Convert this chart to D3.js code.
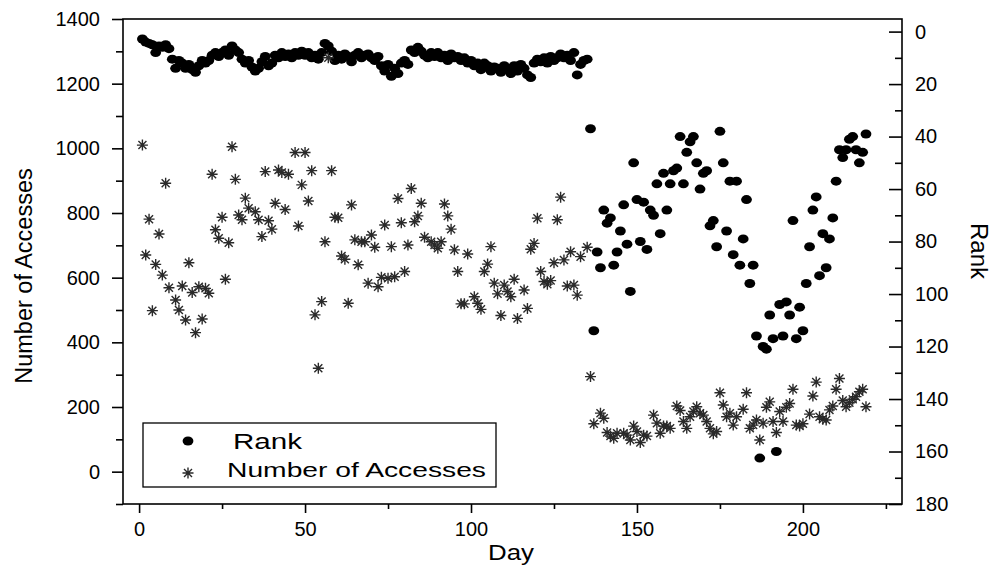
<!DOCTYPE html>
<html>
<head>
<meta charset="utf-8">
<script src="https://cdn.jsdelivr.net/npm/d3@7"></script>
<style>
  body { margin: 0; background: #fff; }
  text { font-family: "Liberation Sans", Arial, sans-serif; fill: #000; }
</style>
</head>
<body>
<div id="chart"></div>
<script>
// Rank of the site, one reading per day (right axis, 0 at the top)
const rankDays = d3.range(1, 220);
const rankValues = [
    2.8, 4, 4.5, 5, 8, 5.5, 6, 5, 6.5, 10.5,
    14, 11, 12, 14, 12.5, 14.5, 15.5, 13, 11, 12,
    11, 9, 8, 9.5, 8, 7, 9, 5.5, 7, 8,
    10.5, 12, 11, 13.5, 15, 14, 11.5, 9.5, 13, 12,
    9, 10, 8, 9.5, 8.5, 10, 8, 9, 7.5, 9,
    8, 10, 9, 10.5, 8, 4.5, 5.5, 7.5, 11, 9,
    10.5, 8.5, 9.5, 11.5, 9, 8, 10, 9, 8.5, 10,
    11, 9.5, 13, 15, 12.5, 17, 14, 16, 12, 11,
    12.5, 7, 8, 6, 7.5, 9, 10, 8, 9.5, 8,
    10, 9, 11, 8.5, 10, 9.5, 11, 10, 12, 11,
    13, 12, 14.5, 12, 13, 15, 13.5, 14, 15.5, 13,
    14, 16, 13, 15, 12.5, 14, 16.5, 17.5, 12, 10.5,
    11.5, 10, 12, 9.5, 11, 10, 8.5, 10, 9, 11,
    8, 16.5, 12.5, 11, 10.5,
    37, 114, 84, 90, 68, 73, 71, 89, 84, 76,          // day 136-145
    66, 81, 99, 50, 64, 80, 65, 83, 68, 70,           // 146-155
    58, 77, 54, 68, 58, 53, 52, 40, 58, 46,           // 156-165
    42, 40, 50, 60, 54, 53, 74, 72, 82, 38,           // 166-175
    50, 76, 57, 85, 57, 89, 79, 64, 96, 89,           // 176-185
    116, 162.5, 120, 121, 108, 117, 160, 104, 116, 103, // 186-195
    108, 72, 117, 105, 114, 96, 82, 68, 63, 93,       // 196-205
    77, 90, 79, 71, 57, 45, 48, 45, 41, 40,           // 206-215
    45, 50, 46, 39                                    // 216-219
];

// Number of accesses (left axis); some days are hidden under other marks
const accessDays = [
    1, 2, 3, 4, 5, 6, 7, 8, 9,
    11, 12, 13, 14, 15, 16, 17, 18, 19, 20, 21,
    22, 23, 24, 25, 26, 27, 28, 29, 30, 31, 32, 33,
    35, 36, 37, 38, 39, 40, 41, 42, 43, 44, 45,
    47, 48, 49, 50, 51, 52, 53, 54, 55, 56,
    57,
    58, 59, 60, 61, 62, 63, 64, 65, 66, 67, 68, 69, 70, 71, 72, 73, 74, 75, 76, 77, 78, 79, 80, 81, 82, 83, 84, 85, 86,
    88, 89, 90, 91, 92, 93, 94, 95, 96, 97, 98, 99,
    101, 102, 103, 104, 105, 106, 107, 108, 109, 110, 111, 112, 113, 114,
    116, 117, 118, 119, 120, 121, 122, 123, 124, 125, 126, 127, 128, 129, 130, 131, 132, 133,
    135,
    136, 137,
    139, 140, 141, 142, 143, 144,
    146, 147, 148, 149, 150, 151, 152, 153,
    155, 156, 157, 158, 159, 160,
    162, 163, 164, 165, 166, 167, 168, 169, 170, 171, 172, 173, 174, 175, 176, 177, 178, 179, 180,
    182, 183, 184, 185, 186, 187, 188, 189, 190, 191, 192, 193, 194, 195, 196, 197, 198, 199, 200,
    202, 203, 204, 205, 206, 207, 208, 209, 210, 211, 212, 213, 214, 215, 216, 217, 218, 219
];
const accessValues = [
    1010, 670, 781, 498, 641, 735, 608, 892, 569,
    531, 500, 574, 469, 646, 554, 430, 572, 472, 567, 552,
    920, 748, 722, 787, 595, 708, 1005, 904, 794, 779, 846, 815,
    804, 779, 727, 928, 776, 750, 830, 933, 925, 811, 920,
    987, 760, 887, 987, 837, 931, 485, 320, 526, 711,
    1280,
    931, 787, 785, 667, 657, 521, 825, 717, 640, 711, 711, 583, 732, 694, 572, 601, 763, 598, 696, 603, 845, 770, 619, 701, 876, 773, 791, 830, 725,
    711, 701, 691, 711, 828, 791, 750, 686, 619, 519, 519, 673,
    541, 521, 502, 619, 642, 696, 583, 550, 483, 577, 557, 541, 595, 474,
    562, 505, 688, 706, 784, 619, 588, 580, 591, 646, 779, 849, 655, 574, 680, 577, 546, 665,
    694,
    294, 148,
    181, 165, 121, 110, 103, 119,
    119, 113, 98, 141, 124, 90, 113, 110,
    175, 150, 119, 141, 141, 134,
    203, 189, 155, 134, 170, 186, 201, 181, 175, 155, 134, 117, 124, 244, 206, 170, 181, 144, 170,
    193, 244, 134, 144, 160, 98, 150, 199, 216, 155, 121, 186, 155, 199, 211, 255, 144, 141, 148,
    178, 234, 277, 170, 162, 160, 191, 203, 255, 288, 220, 201, 213, 224, 232, 247, 255, 201
];

// tick values
const dayMajor = [0, 50, 100, 150, 200];
const dayMinor = [25, 75, 125, 175, 225];
const accessMajor = [0, 200, 400, 600, 800, 1000, 1200, 1400];
const accessMinor = [-100, 100, 300, 500, 700, 900, 1100, 1300];
const rankMajor = [0, 20, 40, 60, 80, 100, 120, 140, 160, 180];
const rankMinor = [10, 30, 50, 70, 90, 110, 130, 150, 170];

const width = 995,
      height = 565,
      margin = ({top: 19, right: 93, bottom: 61, left: 123});

let svg = d3.select("#chart")
    .append("svg")
    .attr("width", width)
    .attr("height", height);

let x = d3.scaleLinear()
    .domain([-5, 230])
    .range([margin.left - 0.5, width - margin.right + 0.5]);

let yLeft = d3.scaleLinear()
    .domain([-100, 1400])
    .range([height - margin.bottom, margin.top]);

let yRight = d3.scaleLinear() // rank grows downwards
    .domain([-4.8, 180])
    .range([margin.top, height - margin.bottom]);

const font = "Liberation Sans, Arial, sans-serif";
const plain = d3.format("d"); // no thousands comma

// axes: major ticks with labels, minor ticks without
function styleAxis(g) {
    g.select(".domain").remove();
    g.selectAll("line").attr("stroke", "#000").attr("stroke-width", 1.6);
    g.selectAll("text").attr("font-size", 20).attr("font-family", font).attr("fill", "#000");
}

svg.append("g")
    .attr("transform", `translate(0, ${height - margin.bottom})`)
    .call(d3.axisBottom(x).tickValues(dayMajor).tickFormat(plain).tickSize(9).tickPadding(9))
    .call(styleAxis);
svg.append("g")
    .attr("transform", `translate(0, ${height - margin.bottom})`)
    .call(d3.axisBottom(x).tickValues(dayMinor).tickSize(5).tickFormat(""))
    .call(styleAxis);

svg.append("g")
    .attr("transform", `translate(${margin.left}, 0)`)
    .call(d3.axisLeft(yLeft).tickValues(accessMajor).tickFormat(plain).tickSize(11).tickPadding(12))
    .call(styleAxis);
svg.append("g")
    .attr("transform", `translate(${margin.left}, 0)`)
    .call(d3.axisLeft(yLeft).tickValues(accessMinor).tickSize(7).tickFormat(""))
    .call(styleAxis);

svg.append("g")
    .attr("transform", `translate(${width - margin.right}, 0)`)
    .call(d3.axisRight(yRight).tickValues(rankMajor).tickFormat(plain).tickSizeInner(-13).tickSizeOuter(0).tickPadding(13))
    .call(styleAxis);
svg.append("g")
    .attr("transform", `translate(${width - margin.right}, 0)`)
    .call(d3.axisRight(yRight).tickValues(rankMinor).tickSizeInner(-7).tickSizeOuter(0).tickFormat(""))
    .call(styleAxis);

// frame round the plot
svg.append("rect")
    .attr("x", margin.left)
    .attr("y", margin.top)
    .attr("width", width - margin.left - margin.right)
    .attr("height", height - margin.top - margin.bottom)
    .attr("fill", "none")
    .attr("stroke", "#000")
    .attr("stroke-width", 1.6);

// rank: filled black dots
svg.append("g")
    .selectAll("ellipse")
    .data(rankDays.map((d, i) => ({day: d, rank: rankValues[i]})))
    .join("ellipse")
    .attr("cx", d => x(d.day))
    .attr("cy", d => yRight(d.rank))
    .attr("rx", 5.4)
    .attr("ry", 4.5)
    .attr("fill", "#000");

// accesses: eight-armed stars
const star = "M0,-5.5V5.5M-5.5,0H5.5M-4,-4L4,4M-4,4L4,-4";
svg.append("g")
    .selectAll("path")
    .data(accessDays.map((d, i) => ({day: d, num: accessValues[i]})))
    .join("path")
    .attr("transform", d => `translate(${x(d.day)}, ${yLeft(d.num)})`)
    .attr("d", star)
    .attr("fill", "none")
    .attr("stroke", "#2a2a2a")
    .attr("stroke-width", 1.4);

// axis titles
svg.append("text")
    .attr("x", 511)
    .attr("y", 560)
    .attr("text-anchor", "middle")
    .attr("font-size", 22)
    .attr("textLength", 46)
    .attr("lengthAdjust", "spacingAndGlyphs")
    .text("Day");

svg.append("text")
    .attr("transform", "translate(32, 276) rotate(-90)")
    .attr("text-anchor", "middle")
    .attr("font-size", 23.5)
    .text("Number of Accesses");

svg.append("text")
    .attr("transform", "translate(971, 251) rotate(90)")
    .attr("text-anchor", "middle")
    .attr("font-size", 24)
    .text("Rank");

// legend
let legend = svg.append("g");
legend.append("rect")
    .attr("x", 143)
    .attr("y", 423)
    .attr("width", 353)
    .attr("height", 64)
    .attr("fill", "none")
    .attr("stroke", "#000")
    .attr("stroke-width", 1.3);
legend.append("ellipse")
    .attr("cx", 188)
    .attr("cy", 441)
    .attr("rx", 5.4)
    .attr("ry", 4.5)
    .attr("fill", "#000");
legend.append("path")
    .attr("transform", "translate(188, 473)")
    .attr("d", star)
    .attr("fill", "none")
    .attr("stroke", "#2a2a2a")
    .attr("stroke-width", 1.4);
legend.append("text")
    .attr("x", 233)
    .attr("y", 449)
    .attr("font-size", 22)
    .attr("textLength", 69)
    .attr("lengthAdjust", "spacingAndGlyphs")
    .text("Rank");
legend.append("text")
    .attr("x", 227)
    .attr("y", 477)
    .attr("font-size", 20)
    .attr("textLength", 259)
    .attr("lengthAdjust", "spacingAndGlyphs")
    .text("Number of Accesses");
</script>
</body>
</html>
